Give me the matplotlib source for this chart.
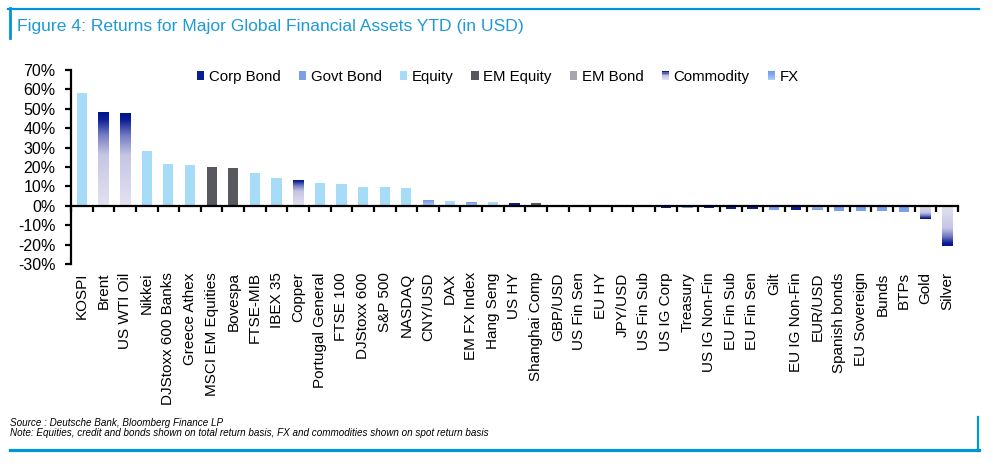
import numpy as np
import matplotlib
matplotlib.use("Agg")
import matplotlib.pyplot as plt
from matplotlib.colors import LinearSegmentedColormap
from matplotlib.patches import Rectangle
from matplotlib.legend_handler import HandlerBase
from matplotlib.lines import Line2D

plt.rcParams['font.family'] = ['Liberation Sans', 'DejaVu Sans']

### data
labels = ['KOSPI', 'Brent', 'US WTI Oil', 'Nikkei', 'DJStoxx 600 Banks', 'Greece Athex',
          'MSCI EM Equities', 'Bovespa', 'FTSE-MIB', 'IBEX 35', 'Copper', 'Portugal General',
          'FTSE 100', 'DJStoxx 600', 'S&P 500', 'NASDAQ', 'CNY/USD', 'DAX', 'EM FX Index',
          'Hang Seng', 'US HY', 'Shanghai Comp', 'GBP/USD', 'US Fin Sen', 'EU HY', 'JPY/USD',
          'US Fin Sub', 'US IG Corp', 'Treasury', 'US IG Non-Fin', 'EU Fin Sub', 'EU Fin Sen',
          'Gilt', 'EU IG Non-Fin', 'EUR/USD', 'Spanish bonds', 'EU Sovereign', 'Bunds', 'BTPs',
          'Gold', 'Silver']
returns = [58.0, 48.2, 47.7, 28.0, 21.8, 21.2, 20.2, 19.7, 17.1, 14.5, 13.5, 11.9,
           11.4, 9.8, 9.9, 9.3, 3.0, 2.4, 2.0, 2.0, 1.2, 1.2, 0.0, 0.0, 0.0, 0.0,
           0.0, -1.0, -0.9, -1.0, -1.6, -1.6, -2.1, -2.2, -2.0, -2.7, -2.7, -2.7, -3.2,
           -7.0, -20.5]
asset_class = ['Equity', 'Commodity', 'Commodity', 'Equity', 'Equity', 'Equity',
               'EM Equity', 'EM Equity', 'Equity', 'Equity', 'Commodity', 'Equity',
               'Equity', 'Equity', 'Equity', 'Equity', 'FX', 'Equity', 'FX',
               'Equity', 'Corp Bond', 'EM Equity', 'FX', 'Corp Bond', 'Corp Bond', 'FX',
               'Corp Bond', 'Corp Bond', 'Govt Bond', 'Corp Bond', 'Corp Bond', 'Corp Bond',
               'Govt Bond', 'Corp Bond', 'FX', 'Govt Bond', 'Govt Bond', 'Govt Bond', 'Govt Bond',
               'Commodity', 'Commodity']
legend_order = ['Corp Bond', 'Govt Bond', 'Equity', 'EM Equity', 'EM Bond', 'Commodity', 'FX']

### styles
solid = {'Corp Bond': '#0A1C96', 'Govt Bond': '#7B9FEA', 'Equity': '#A6DCF7',
         'EM Equity': '#58585F', 'EM Bond': '#A7A6AE'}
grad = {
    'Commodity': LinearSegmentedColormap.from_list('comm', [
        (0.0, '#E3E2F1'), (0.55, '#C6C5E3'), (0.77, '#7078C2'),
        (0.93, '#0E1E95'), (1.0, '#001490')]),
    'FX': LinearSegmentedColormap.from_list('fx', [
        (0.0, '#ACD2F8'), (1.0, '#7393E8')]),
}
blue = '#0096D6'


class GradPatch(object):
    def __init__(self, cmap):
        self.cmap = cmap


class HandlerGrad(HandlerBase):
    def create_artists(self, legend, orig_handle, xdescent, ydescent, width, height, fontsize, trans):
        n = 8
        arts = []
        for k in range(n):
            r = Rectangle((-xdescent, -ydescent + height * k / n), width, height / n + 0.3,
                          facecolor=orig_handle.cmap((k + 0.5) / n), edgecolor='none', transform=trans)
            arts.append(r)
        return arts


fig = plt.figure(figsize=(9.93, 4.66), dpi=100)
ax = fig.add_axes([71 / 993, 1 - 264 / 466, (958 - 71) / 993, (264 - 70) / 466])

x = np.arange(len(labels))
bars = ax.bar(x, returns, width=0.47, linewidth=0,
              color=[solid.get(c, 'none') for c in asset_class], zorder=1)

### gradient fills
for b, c in zip(bars, asset_class):
    if c in grad:
        img = ax.imshow(np.linspace(0, 1, 64).reshape(-1, 1), cmap=grad[c], origin='lower',
                        extent=(b.get_x(), b.get_x() + b.get_width(), 0, b.get_height()),
                        aspect='auto', interpolation='bilinear', zorder=1)
        img.set_clip_path(b)

ax.set_xlim(-0.5, len(labels) - 0.5)
ax.set_ylim(-30, 70)
ax.set_aspect('auto')

for s in ['top', 'right']:
    ax.spines[s].set_visible(False)
ax.spines['left'].set_linewidth(1.6)
ax.spines['bottom'].set_position(('data', 0))
ax.spines['bottom'].set_linewidth(1.6)

ax.set_yticks(np.arange(-30, 71, 10))
ax.yaxis.set_major_formatter(lambda v, p: '%d%%' % v)
ax.tick_params(axis='y', length=4, width=1.6, pad=7, labelsize=11.5)
ax.set_xticks(np.arange(len(labels) + 1) - 0.5)
ax.set_xticklabels([])
ax.tick_params(axis='x', length=4, width=1.6)

sec = ax.secondary_xaxis('bottom')
sec.set_xticks(x, labels, rotation=90)
sec.tick_params(length=0, pad=6, labelsize=11)
sec.spines['bottom'].set_visible(False)

### legend
handles = [Rectangle((0, 0), 1, 1, facecolor=solid[k], edgecolor='none') if k in solid
           else GradPatch(grad[k]) for k in legend_order]
ax.legend(handles, legend_order, handler_map={GradPatch: HandlerGrad()},
          loc='upper left', bbox_to_anchor=(0.142, 1.0), ncol=7, frameon=False,
          fontsize=10.8, handlelength=0.5, handleheight=0.5, handletextpad=0.3,
          columnspacing=1.2, borderpad=0, borderaxespad=0)

### frame & texts
fig.text(17 / 993, 1 - 27 / 466, 'Figure 4: Returns for Major Global Financial Assets YTD (in USD)',
         color='#1E9AD8', fontsize=12.6, va='center', ha='left')
fig.text(10 / 993, 1 - 423 / 466, 'Source : Deutsche Bank, Bloomberg Finance LP',
         fontsize=7.1, style='italic', va='center', ha='left')
fig.text(10 / 993, 1 - 433 / 466,
         'Note: Equities, credit and bonds shown on total return basis, FX and commodities shown on spot return basis',
         fontsize=7.1, style='italic', va='center', ha='left')

W, H = 993, 466
fig.add_artist(Line2D([8 / W, 979 / W], [1 - 8.5 / H] * 2, color=blue, lw=1.6))
fig.add_artist(Line2D([9.5 / W] * 2, [1 - 8 / H, 1 - 38 / H], color=blue, lw=2.0))
fig.add_artist(Line2D([10 / W, 979 / W], [1 - 450 / H] * 2, color=blue, lw=2.3))
fig.add_artist(Line2D([978 / W] * 2, [1 - 417 / H, 1 - 451 / H], color=blue, lw=1.6))

fig.savefig('out.png', dpi=100)
